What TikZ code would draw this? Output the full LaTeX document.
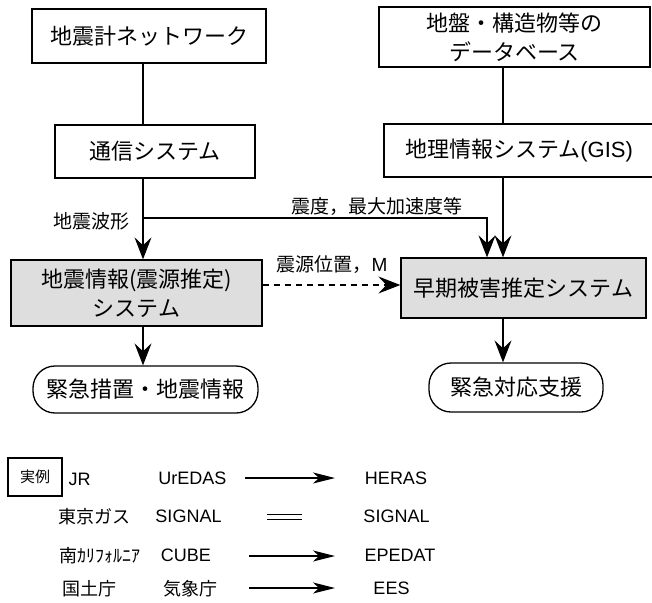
\documentclass[tikz,border=0pt]{standalone}
\usepackage{fontspec}
\setmainfont{Noto Sans CJK JP}
\newfontfamily\lat{Liberation Sans}
\usetikzlibrary{arrows.meta}
\begin{document}
\begin{tikzpicture}[x=1pt,y=-1pt,line width=1.2pt,
  box/.style={draw, line width=1.3pt, inner sep=0pt, align=center, font=\fontsize{22}{29}\selectfont},
  gbox/.style={box, fill=black!13},
  oval/.style={draw, line width=1.3pt, rounded corners=22pt, inner sep=0pt, font=\fontsize{22}{29}\selectfont},
  lab/.style={inner sep=0pt, font=\fontsize{19}{22}\selectfont},
  ex/.style={inner sep=0pt, font=\fontsize{18}{22}\selectfont},
  exl/.style={inner sep=0pt, font=\fontsize{18}{22}\selectfont\lat},
  arr/.style={-{Stealth[length=22pt,width=17pt,inset=8pt]}},
  sarr/.style={-{Stealth[length=22pt,width=11pt,inset=6pt]}}]
\useasboundingbox (0,0) rectangle (652,602);
\clip (0,0) rectangle (652,602);
% left column
\node[box, minimum width=234pt, minimum height=54pt] (b1) at (149,36) {地震計ネットワーク};
\node[box, minimum width=200pt, minimum height=53pt] (b2) at (155,151.5) {通信システム};
\node[gbox, minimum width=251pt, minimum height=66pt] (b3) at (136.5,293) {地震情報({震源推定})\\システム};
\node[oval, minimum width=225pt, minimum height=47pt] (o1) at (145.5,389.5) {緊急措置・地震情報};
% right column
\node[box, minimum width=271pt, minimum height=60pt] (b4) at (514.5,37) {地盤・構造物等の\\データベース};
\node[box, minimum width=270pt, minimum height=53pt] (b5) at (519,150.5) {地理情報システム{\lat(GIS)}};
\node[gbox, minimum width=245pt, minimum height=60pt] (b6) at (523.5,288) {早期被害推定システム};
\node[oval, minimum width=174pt, minimum height=49pt] (o2) at (516,387.5) {緊急対応支援};
% helper coordinates
\coordinate (lx) at (143,0);
\coordinate (rx1) at (487,0);
\coordinate (rx2) at (503,0);
\coordinate (j) at (143,218);
\coordinate (dy) at (0,285);
% connectors
\draw (lx |- b1.south) -- (lx |- b2.north);
\draw[arr] (lx |- b2.south) -- (lx |- b3.north);
\draw[arr] (j) -| (rx1 |- b6.north);
\draw (rx2 |- b4.south) -- (rx2 |- b5.north);
\draw[arr] (rx2 |- b5.south) -- (rx2 |- b6.north);
\draw[arr] (lx |- b3.south) -- (lx |- o1.north);
\draw[arr] (rx2 |- b6.south) -- (rx2 |- o2.north);
\draw[arr, dash pattern=on 6pt off 5pt] (b3.east |- dy) -- (b6.west |- dy);
% labels
\node[lab] (l1) at (91,221) {地震波形};
\node[lab] (l2) at (377,206) {震度，最大加速度等};
\node[lab] (l3) at (332,265) {震源位置，{\lat M}};
% examples
\node[draw, line width=1.2pt, minimum width=54pt, minimum height=38pt, inner sep=0pt, font=\fontsize{15}{18}\selectfont] (ex) at (35,477) {実例};
\node[exl] (jr) at (79.5,479) {JR};
\node[exl] (u1) at (192.5,478) {UrEDAS};
\node[exl] (h1) at (396,478) {HERAS};
\node[ex] (t2) at (94,517) {東京ガス};
\node[exl] (s2) at (188.5,516) {SIGNAL};
\node[exl] (s2b) at (396.5,516) {SIGNAL};
\node[ex] (t3) at (100,556) {南ｶﾘﾌｫﾙﾆｱ};
\node[exl] (c3) at (186,555) {CUBE};
\node[exl] (e3) at (400,555) {EPEDAT};
\node[ex] (t4) at (89,589) {国土庁};
\node[ex] (k4) at (190,589) {気象庁};
\node[exl] (e4) at (391.5,588) {EES};
\coordinate (a1s) at (245,478); \coordinate (a1e) at (335,478);
\coordinate (d1s) at (267,514); \coordinate (d1e) at (302,514);
\coordinate (d2s) at (267,519); \coordinate (d2e) at (302,519);
\coordinate (a3s) at (249,556); \coordinate (a3e) at (335,556);
\coordinate (a4s) at (249,588); \coordinate (a4e) at (335,588);
\draw[sarr] (a1s) -- (a1e);
\draw[line width=1pt] (d1s) -- (d1e);
\draw[line width=1pt] (d2s) -- (d2e);
\draw[sarr] (a3s) -- (a3e);
\draw[sarr] (a4s) -- (a4e);
\end{tikzpicture}
\end{document}
